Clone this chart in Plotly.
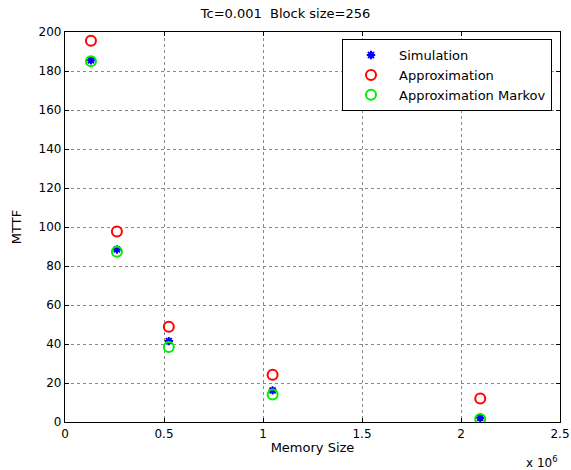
import plotly.graph_objects as go

memory_size = [131072, 262144, 524288, 1048576, 2097152]
sim_mttf = [185.5, 88.5, 41.5, 16.2, 2.2]
approx_mttf = [195.5, 97.7, 48.8, 24.2, 12.0]
markov_mttf = [185.0, 87.3, 38.5, 14.1, 1.6]

x_ticks = [0, 500000, 1000000, 1500000, 2000000, 2500000]
x_tick_labels = ["0", "0.5", "1", "1.5", "2", "2.5"]
y_ticks = list(range(0, 201, 20))

font = "DejaVu Sans, Verdana, sans-serif"

fig = go.Figure()
fig.add_trace(go.Scatter(
    x=memory_size, y=sim_mttf, mode="markers", name="Simulation",
    marker=dict(symbol="asterisk-open", size=7, color="#0000ff",
                line=dict(color="#0000ff", width=2))))
fig.add_trace(go.Scatter(
    x=memory_size, y=approx_mttf, mode="markers", name="Approximation",
    marker=dict(symbol="circle-open", size=10, color="#ff0000",
                line=dict(color="#ff0000", width=2))))
fig.add_trace(go.Scatter(
    x=memory_size, y=markov_mttf, mode="markers", name="Approximation Markov",
    marker=dict(symbol="circle-open", size=10, color="#00ee00",
                line=dict(color="#00ee00", width=2))))

axis_common = dict(
    showline=True, linecolor="black", linewidth=1.2, mirror="ticks",
    ticks="inside", ticklen=4, tickcolor="black",
    showgrid=True, gridcolor="#888888", griddash="dot", gridwidth=1,
    zeroline=False, automargin=False,
    tickfont=dict(size=12, color="black", family=font),
)

fig.update_layout(
    width=571, height=470,
    margin=dict(l=65, r=11, t=32, b=48),
    paper_bgcolor="white", plot_bgcolor="white",
    font=dict(family=font, size=13, color="black"),
    title=dict(text="Tc=0.001\u00a0\u00a0Block size=256", x=0.5, xanchor="center",
               y=1 - 13 / 470, yanchor="middle", font=dict(size=13, color="black")),
    xaxis=dict(range=[0, 2500000], tickvals=x_ticks, ticktext=x_tick_labels,
               title=dict(text="Memory Size", standoff=2, font=dict(size=13)),
               **axis_common),
    yaxis=dict(range=[0, 200], tickvals=y_ticks,
               title=dict(text="MTTF", standoff=14, font=dict(size=13)),
               **axis_common),
    legend=dict(x=277 / 495, y=1 - 7 / 388, xanchor="left", yanchor="top",
                bgcolor="white", bordercolor="black", borderwidth=1,
                font=dict(size=13, color="black"), tracegroupgap=0,
                itemwidth=46),
    showlegend=True,
)

fig.add_annotation(text="x 10<sup>6</sup>", xref="paper", yref="paper",
                   x=1.0, y=-40 / 388, xanchor="right", yanchor="middle",
                   showarrow=False, font=dict(size=12, color="black"))

fig.write_html("out.html", config={"displayModeBar": False},
               post_script="document.body.style.margin='0';document.body.style.padding='0';")
